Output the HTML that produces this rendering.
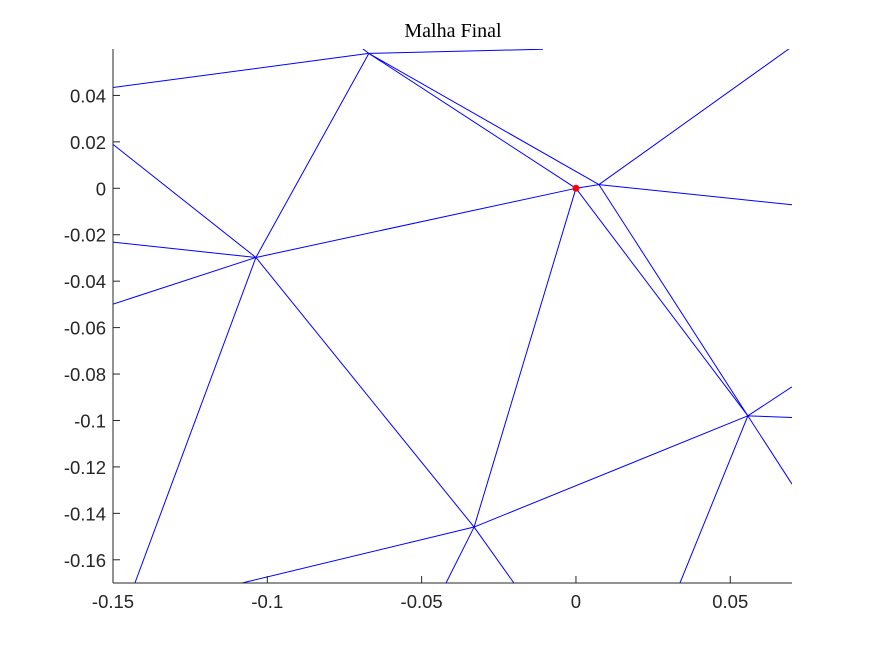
<!DOCTYPE html>
<html><head><meta charset="utf-8"><style>
body{margin:0;background:#fff}
svg text{font-family:"Liberation Sans",sans-serif;font-size:18.5px;fill:#262626}
</style></head><body>
<svg id="chart" width="875" height="656" xmlns="http://www.w3.org/2000/svg">
<defs><clipPath id="clip"><rect x="113" y="49" width="679" height="534"/></clipPath></defs>
<rect width="875" height="656" fill="#fff"/>
<text x="453" y="37" text-anchor="middle" style="font-family:'Liberation Serif',serif;font-size:20px;fill:#000">Malha Final</text>
<g id="mesh" clip-path="url(#clip)"></g>
<g id="axes"></g>
</svg>
<script>
const xTicks=[-0.15,-0.1,-0.05,0,0.05];
const xTickLabels=["-0.15","-0.1","-0.05","0","0.05"];
const yTicks=[0.04,0.02,0,-0.02,-0.04,-0.06,-0.08,-0.1,-0.12,-0.14,-0.16];
const yTickLabels=["0.04","0.02","0","-0.02","-0.04","-0.06","-0.08","-0.1","-0.12","-0.14","-0.16"];
const edgeStartX=[-0.15,-0.0671,-0.0671,-0.0671,-0.0671,-0.0671,-0.15,-0.15,-0.15,-0.1037,-0.1037,-0.1037,0,0,0,0.00745,0.00745,0.00745,0.0557,0.0557,0.0557,0.0557,0.0557,-0.033,-0.033,-0.033];
const edgeStartY=[0.0434,0.0581,0.0581,0.0581,0.0581,0.0581,0.0189,-0.0232,-0.0499,-0.0298,-0.0298,-0.0298,0,0,0,0.0016,0.0016,0.0016,-0.098,-0.098,-0.098,-0.098,-0.098,-0.1459,-0.1459,-0.1459];
const edgeEndX=[-0.0671,-0.0107,-0.1037,0,0.00745,-0.071,-0.1037,-0.1037,-0.1037,0,-0.033,-0.1429,0.00745,-0.033,0.0557,0.0557,0.07,0.07,0.07,0.07,0.07,0.0337,-0.033,-0.1082,-0.0421,-0.0201];
const edgeEndY=[0.0581,0.0599,-0.0298,0,0.0016,0.062,-0.0298,-0.0298,-0.0298,0,-0.1459,-0.17,0.0016,-0.1459,-0.098,-0.098,0.061,-0.0071,-0.0855,-0.0987,-0.1274,-0.17,-0.1459,-0.17,-0.17,-0.17];
const NS="http://www.w3.org/2000/svg";
const X0=113,X1=792,Y0=583,Y1=49;
const sx=v=>X0+(v+0.15)/0.22*(X1-X0);
const sy=v=>Y0-(v+0.17)/0.23*(Y0-Y1);
const mesh=document.getElementById('mesh'),axes=document.getElementById('axes');
function mk(t,a,p){const e=document.createElementNS(NS,t);for(const k in a)e.setAttribute(k,a[k]);p.appendChild(e);return e;}
for(let i=0;i<edgeStartX.length;i++){
 const l=mk('line',{x1:sx(edgeStartX[i]),y1:sy(edgeStartY[i]),x2:sx(edgeEndX[i]),y2:sy(edgeEndY[i]),stroke:'#0000ff','stroke-width':1},mesh);
 
 
}
const pt=mk('circle',{cx:sx(0),cy:sy(0),r:3.5,fill:'#ff0000'},document.getElementById('chart'));


mk('line',{x1:X0,y1:Y1,x2:X0,y2:Y0,stroke:'#262626'},axes);
mk('line',{x1:X0,y1:Y0,x2:X1,y2:Y0,stroke:'#262626'},axes);
xTicks.forEach((v,i)=>{const x=sx(v);mk('line',{x1:x,y1:Y0,x2:x,y2:Y0-7,stroke:'#262626'},axes);
 const t=mk('text',{x:x,y:Y0+25,'text-anchor':'middle'},axes);t.textContent=xTickLabels[i];
 
 });
yTicks.forEach((v,i)=>{const y=sy(v);mk('line',{x1:X0,y1:y,x2:X0+7,y2:y,stroke:'#262626'},axes);
 const t=mk('text',{x:X0-7,y:y+7,'text-anchor':'end'},axes);t.textContent=yTickLabels[i];
 
 });
</script>
</body></html>
